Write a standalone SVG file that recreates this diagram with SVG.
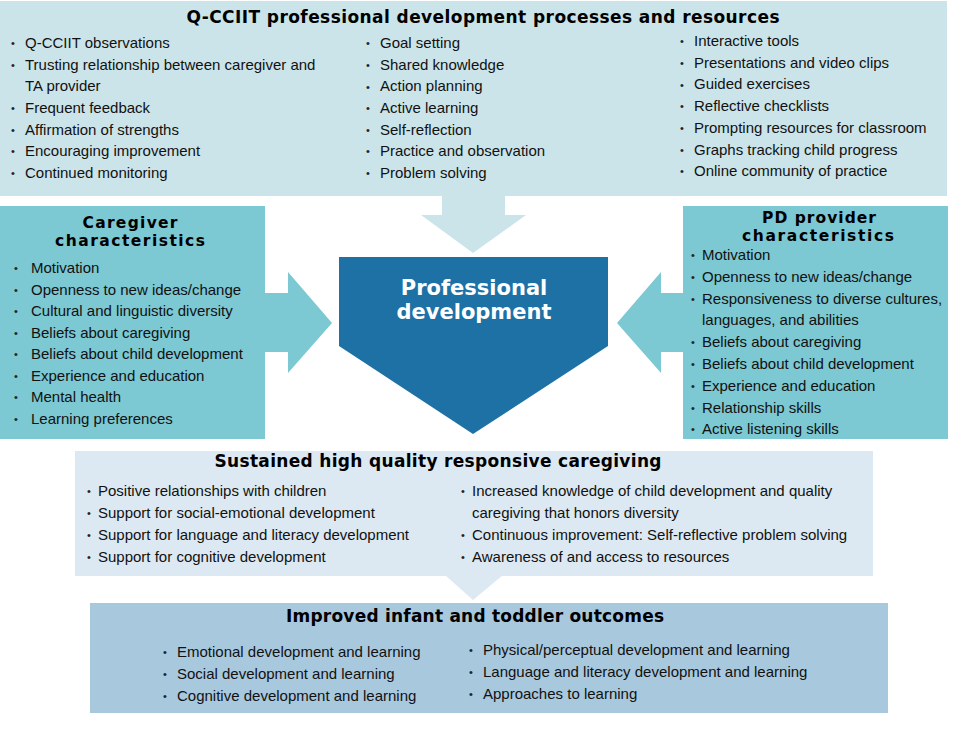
<svg xmlns="http://www.w3.org/2000/svg" width="975" height="732" viewBox="0 0 975 732">
<style>
.t{font-family:"Liberation Sans",Arial,sans-serif;font-size:15px;fill:#111}
.b{font-family:"Liberation Sans",Arial,sans-serif;font-size:11px;fill:#222}
.h{font-family:"DejaVu Sans","Liberation Sans",sans-serif;font-weight:bold;font-size:17px;fill:#000;text-anchor:middle}
.h2{font-family:"DejaVu Sans","Liberation Sans",sans-serif;font-weight:bold;font-size:15.5px;fill:#000;text-anchor:middle}
.c{font-family:"DejaVu Sans","Liberation Sans",sans-serif;font-weight:bold;font-size:21px;fill:#fff;text-anchor:middle}
.light{fill:#cbe4e9}
.teal{fill:#7cc8d3}
.dark{fill:#1d71a5}
.sus{fill:#dce9f2}
.imp{fill:#a8c8de}
</style>
<rect width="975" height="732" fill="#fff"/>

<g id="connectors">
<polygon class="light" points="442,195 505,195 505,215 526,215 473,253 421,215 442,215"/>
<polygon class="teal" points="264,293 288,293 288,272 332,323 288,373 288,352 264,352"/>
<polygon class="teal" points="684,293 661,293 661,272 617,323 661,373 661,352 684,352"/>
<polygon class="sus" points="445,575 503,575 473,600"/>
</g>

<g id="qcciit-processes">
<rect class="light" x="0" y="1" width="947" height="195"/>
<text class="h" x="483" y="23" textLength="593" lengthAdjust="spacing">Q-CCIIT professional development processes and resources</text>
<g>
<text class="b" x="11" y="47">•</text><text class="t" x="25" y="48">Q-CCIIT observations</text>
<text class="b" x="11" y="69">•</text><text class="t" x="25" y="70">Trusting relationship between caregiver and</text>
<text class="t" x="25" y="91">TA provider</text>
<text class="b" x="11" y="112">•</text><text class="t" x="25" y="113">Frequent feedback</text>
<text class="b" x="11" y="134">•</text><text class="t" x="25" y="135">Affirmation of strengths</text>
<text class="b" x="11" y="155">•</text><text class="t" x="25" y="156">Encouraging improvement</text>
<text class="b" x="11" y="177">•</text><text class="t" x="25" y="178">Continued monitoring</text>
</g>
<g>
<text class="b" x="366" y="47">•</text><text class="t" x="380" y="48">Goal setting</text>
<text class="b" x="366" y="69">•</text><text class="t" x="380" y="70">Shared knowledge</text>
<text class="b" x="366" y="91">•</text><text class="t" x="380" y="91">Action planning</text>
<text class="b" x="366" y="112">•</text><text class="t" x="380" y="113">Active learning</text>
<text class="b" x="366" y="134">•</text><text class="t" x="380" y="135">Self-reflection</text>
<text class="b" x="366" y="155">•</text><text class="t" x="380" y="156">Practice and observation</text>
<text class="b" x="366" y="177">•</text><text class="t" x="380" y="178">Problem solving</text>
</g>
<g>
<text class="b" x="680" y="45">•</text><text class="t" x="694" y="46">Interactive tools</text>
<text class="b" x="680" y="67">•</text><text class="t" x="694" y="68">Presentations and video clips</text>
<text class="b" x="680" y="89">•</text><text class="t" x="694" y="89">Guided exercises</text>
<text class="b" x="680" y="110">•</text><text class="t" x="694" y="111">Reflective checklists</text>
<text class="b" x="680" y="132">•</text><text class="t" x="694" y="133">Prompting resources for classroom</text>
<text class="b" x="680" y="154">•</text><text class="t" x="694" y="155">Graphs tracking child progress</text>
<text class="b" x="680" y="175">•</text><text class="t" x="694" y="176">Online community of practice</text>
</g>
</g>

<g id="caregiver-characteristics">
<rect class="teal" x="0" y="206" width="265" height="233"/>
<text class="h2" x="130" y="228" textLength="95" lengthAdjust="spacing">Caregiver</text>
<text class="h2" x="130" y="246" textLength="150" lengthAdjust="spacing">characteristics</text>
<text class="b" x="14" y="272">•</text><text class="t" x="31" y="273">Motivation</text>
<text class="b" x="14" y="294">•</text><text class="t" x="31" y="295">Openness to new ideas/change</text>
<text class="b" x="14" y="315">•</text><text class="t" x="31" y="316">Cultural and linguistic diversity</text>
<text class="b" x="14" y="337">•</text><text class="t" x="31" y="338">Beliefs about caregiving</text>
<text class="b" x="14" y="358">•</text><text class="t" x="31" y="359">Beliefs about child development</text>
<text class="b" x="14" y="380">•</text><text class="t" x="31" y="381">Experience and education</text>
<text class="b" x="14" y="401">•</text><text class="t" x="31" y="402">Mental health</text>
<text class="b" x="14" y="423">•</text><text class="t" x="31" y="424">Learning preferences</text>
</g>

<g id="pd-provider-characteristics">
<rect class="teal" x="683" y="206" width="265" height="233"/>
<text class="h2" x="819" y="223" textLength="114" lengthAdjust="spacing">PD provider</text>
<text class="h2" x="818" y="241" textLength="152" lengthAdjust="spacing">characteristics</text>
<text class="b" x="691" y="259">•</text><text class="t" x="702" y="260">Motivation</text>
<text class="b" x="691" y="281">•</text><text class="t" x="702" y="282">Openness to new ideas/change</text>
<text class="b" x="691" y="303">•</text><text class="t" x="702" y="304">Responsiveness to diverse cultures,</text>
<text class="t" x="702" y="325">languages, and abilities</text>
<text class="b" x="691" y="346">•</text><text class="t" x="702" y="347">Beliefs about caregiving</text>
<text class="b" x="691" y="368">•</text><text class="t" x="702" y="369">Beliefs about child development</text>
<text class="b" x="691" y="390">•</text><text class="t" x="702" y="391">Experience and education</text>
<text class="b" x="691" y="412">•</text><text class="t" x="702" y="413">Relationship skills</text>
<text class="b" x="691" y="433">•</text><text class="t" x="702" y="434">Active listening skills</text>
</g>

<g id="professional-development">
<polygon class="dark" points="339,257 608,257 608,346 473,434 339,346"/>
<text class="c" x="474" y="295">Professional</text>
<text class="c" x="474" y="319">development</text>
</g>

<g id="sustained-caregiving">
<rect class="sus" x="75" y="451" width="798" height="125"/>
<text class="h" x="438" y="467" textLength="447" lengthAdjust="spacing">Sustained high quality responsive caregiving</text>
<text class="b" x="87" y="495">•</text><text class="t" x="98" y="496">Positive relationships with children</text>
<text class="b" x="87" y="517">•</text><text class="t" x="98" y="518">Support for social-emotional development</text>
<text class="b" x="87" y="539">•</text><text class="t" x="98" y="540">Support for language and literacy development</text>
<text class="b" x="87" y="561">•</text><text class="t" x="98" y="562">Support for cognitive development</text>
<text class="b" x="461" y="495">•</text><text class="t" x="472" y="496">Increased knowledge of child development and quality</text>
<text class="t" x="472" y="518">caregiving that honors diversity</text>
<text class="b" x="461" y="539">•</text><text class="t" x="472" y="540">Continuous improvement: Self-reflective problem solving</text>
<text class="b" x="461" y="561">•</text><text class="t" x="472" y="562">Awareness of and access to resources</text>
</g>

<g id="improved-outcomes">
<rect class="imp" x="90" y="603" width="798" height="110"/>
<text class="h" x="475" y="622" textLength="378" lengthAdjust="spacing">Improved infant and toddler outcomes</text>
<text class="b" x="163" y="656">•</text><text class="t" x="177" y="657">Emotional development and learning</text>
<text class="b" x="163" y="678">•</text><text class="t" x="177" y="679">Social development and learning</text>
<text class="b" x="163" y="700">•</text><text class="t" x="177" y="701">Cognitive development and learning</text>
<text class="b" x="469" y="654">•</text><text class="t" x="483" y="655">Physical/perceptual development and learning</text>
<text class="b" x="469" y="676">•</text><text class="t" x="483" y="677">Language and literacy development and learning</text>
<text class="b" x="469" y="698">•</text><text class="t" x="483" y="699">Approaches to learning</text>
</g>
</svg>
